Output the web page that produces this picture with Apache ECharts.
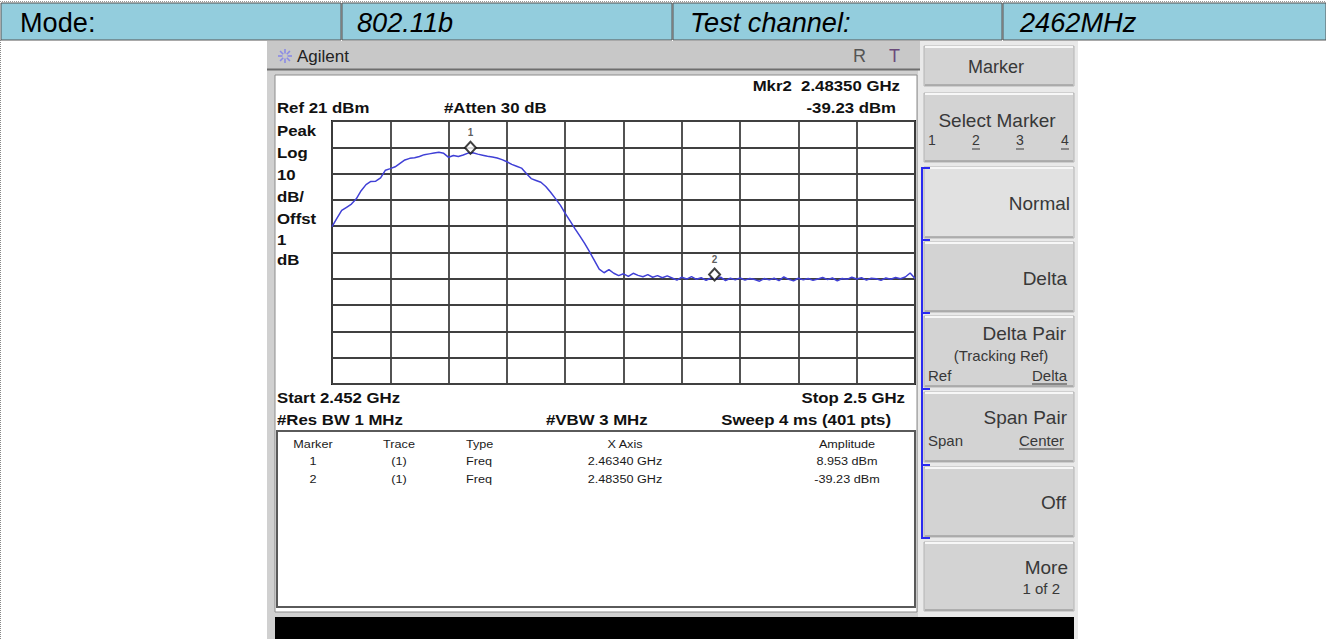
<!DOCTYPE html>
<html><head><meta charset="utf-8">
<script src="https://cdn.jsdelivr.net/npm/echarts@6/dist/echarts.min.js"></script>
<style>html,body{margin:0;padding:0;background:#fff;}#c{width:1326px;height:639px;}</style>
</head><body><div id="c"></div>
<script>
// ---------- data ----------
const headerCells = ['Mode:', '802.11b', 'Test channel:', '2462MHz'];
const freqMHz = [
2452.0,2452.4,2452.8,2453.2,2453.6,2454.0,2454.4,2454.8,2455.2,2455.6,
2456.0,2456.4,2456.8,2457.2,2457.6,2458.0,2458.4,2458.8,2459.2,2459.6,
2460.0,2460.4,2460.8,2461.2,2461.6,2462.0,2462.4,2462.8,2463.2,2463.6,
2464.0,2464.4,2464.8,2465.2,2465.6,2466.0,2466.4,2466.8,2467.2,2467.6,
2468.0,2468.4,2468.8,2469.2,2469.6,2470.0,2470.4,2470.8,2471.2,2471.6,
2472.0,2472.4,2472.8,2473.2,2473.6,2474.0,2474.4,2474.8,2475.2,2475.6,
2476.0,2476.4,2476.8,2477.2,2477.6,2478.0,2478.4,2478.8,2479.2,2479.6,
2480.0,2480.4,2480.8,2481.2,2481.6,2482.0,2482.4,2482.8,2483.2,2483.6,
2484.0,2484.4,2484.8,2485.2,2485.6,2486.0,2486.4,2486.8,2487.2,2487.6,
2488.0,2488.4,2488.8,2489.2,2489.6,2490.0,2490.4,2490.8,2491.2,2491.6,
2492.0,2492.4,2492.8,2493.2,2493.6,2494.0,2494.4,2494.8,2495.2,2495.6,
2496.0,2496.4,2496.8,2497.2,2497.6,2498.0,2498.4,2498.8,2499.2,2499.6,
2500.0];
const traceDbm = [
-19.2,-16.0,-13.0,-11.8,-10.6,-8.6,-5.5,-3.2,-2.0,-1.9,
-0.6,2.3,2.9,3.6,4.9,6.2,6.8,7.0,7.5,8.2,
8.5,8.8,9.1,8.7,7.2,7.9,7.5,8.1,8.8,8.9,
8.4,8.0,7.6,7.3,6.9,6.3,5.5,4.5,3.8,3.1,
1.0,-0.9,-1.6,-2.3,-3.9,-6.1,-8.5,-11.0,-14.1,-17.0,
-19.9,-22.7,-25.5,-28.7,-32.0,-35.3,-36.7,-35.5,-36.9,-37.8,
-37.1,-38.1,-36.9,-37.7,-38.2,-37.4,-38.4,-37.8,-38.6,-37.9,
-38.7,-39.5,-38.4,-39.1,-38.2,-39.2,-38.6,-39.6,-38.7,-39.2,
-38.4,-39.7,-38.8,-39.4,-38.7,-39.5,-38.9,-39.3,-39.9,-38.9,
-39.4,-38.8,-39.7,-38.3,-39.2,-39.8,-38.8,-39.4,-38.9,-39.6,
-39.1,-38.5,-39.3,-38.7,-39.8,-38.9,-39.2,-38.4,-39.1,-38.6,
-39.5,-38.8,-39.0,-39.6,-38.7,-39.2,-38.5,-39.0,-38.3,-36.8,
-38.9];
const markerIds = ['1', '2'];
const markerFreqGHz = [2.46340, 2.48350];
const markerAmpDbm = [8.953, -39.23];
const refLevelDbm = 21;
const dbPerDiv = 10;
const startGHz = 2.452;
const stopGHz = 2.5;
const leftLabels = ['Peak', 'Log', '10', 'dB/', 'Offst', '1', 'dB'];
const tableHeads = ['Marker', 'Trace', 'Type', 'X Axis', 'Amplitude'];
const softKeys = ['Marker', 'Select Marker', 'Normal', 'Delta', 'Delta Pair', 'Span Pair', 'Off', 'More'];

// ---------- helpers ----------
const FF = '"Liberation Sans", Arial, Helvetica, sans-serif';
const G = [];
function R(x, y, w, h, fill, o) { o = o || {}; G.push({type:'rect', silent:true, z:o.z == null ? -5 : o.z, shape:{x, y, width:w, height:h}, style:{fill, stroke:o.stroke || null, lineWidth:o.lw || 0}}); }
function L(x1, y1, x2, y2, c, lw, o) { o = o || {}; G.push({type:'line', silent:true, z:o.z == null ? 1 : o.z, shape:{x1, y1, x2, y2}, style:{stroke:c, lineWidth:lw, lineDash:o.dash || null}}); }
function T(x, y, text, o) {
  o = o || {};
  G.push({type:'text', silent:true, z:10, x, y, scaleX:o.sx || 1, scaleY:o.sy || 1,
    style:{text, x:0, y:0, fill:o.c || '#111', fontSize:o.fs || 14, fontFamily:o.ff || FF,
      fontWeight:o.fw || 'normal', fontStyle:o.st || 'normal', align:o.a || 'left', verticalAlign:'middle'}});
}

// ---------- page / header ----------
L(0.5, 40, 0.5, 639, '#888', 1, {dash:[1, 1]});
L(0, 1.5, 1326, 1.5, '#999', 1, {dash:[1, 1]});
const hx = [0, 341, 672, 1002, 1326];
const htx = [20, 357, 690, 1020];
for (let i = 0; i < 4; i++) {
  R(hx[i] + 1, 3, hx[i + 1] - hx[i] - 1, 37, '#93cddd', {stroke:'#555', lw:1, z:-4});
  T(htx[i], 22, headerCells[i], {fs:28, sx:0.97, c:'#000', st: i === 0 ? 'normal' : 'italic'});
}

// ---------- instrument frame ----------
R(267, 41, 811, 598, '#d0d0d0', {z:-9});
R(918, 41, 160, 598, '#e9e9e9', {z:-8});
R(267, 41, 653, 28, '#c8c8c8', {z:-7});
L(267, 69.5, 920, 69.5, '#6e6e6e', 2, {z:-6});
R(275, 75, 642, 537, '#ffffff', {stroke:'#8c8c8c', lw:1, z:-6});
R(275, 617, 799, 22, '#000000', {z:-6});
// Agilent logo (star burst)
for (let k = 0; k < 8; k++) {
  const a = k * Math.PI / 4;
  L(285 + Math.cos(a) * 2.5, 56 + Math.sin(a) * 2.5, 285 + Math.cos(a) * 7, 56 + Math.sin(a) * 7, '#8a8ae6', 1.6, {z:5});
}
T(297, 56, 'Agilent', {fs:17, c:'#222'});
T(853, 56, 'R', {fs:18, c:'#555'});
T(889, 56, 'T', {fs:18, c:'#6a4a7a'});

// ---------- screen annotations ----------
const B = {fs:15, fw:'bold', sx:1.12, c:'#111'};
const m2 = markerIds.length - 1;
T(900, 86, 'Mkr' + markerIds[m2] + '  ' + markerFreqGHz[m2].toFixed(5) + ' GHz', Object.assign({a:'right'}, B));
T(277, 108, 'Ref ' + refLevelDbm + ' dBm', B);
T(444, 108, '#Atten 30 dB', B);
T(896, 108, markerAmpDbm[m2].toFixed(2) + ' dBm', Object.assign({a:'right'}, B));
const leftY = [131, 153, 175, 197, 219, 240, 260];
leftLabels.forEach((s, i) => T(277, leftY[i], s, B));
T(277, 398, 'Start ' + startGHz + ' GHz', B);
T(905, 398, 'Stop ' + stopGHz + ' GHz', Object.assign({a:'right'}, B));
T(277, 420, '#Res BW 1 MHz', B);
T(546, 420, '#VBW 3 MHz', B);
T(891, 420, 'Sweep 4 ms (401 pts)', Object.assign({a:'right'}, B));

// ---------- marker table ----------
R(277, 431, 638, 176, '#ffffff', {stroke:'#5a5a5a', lw:2, z:-5});
const colX = [313, 399, 466, 625, 847];
const colA = ['center', 'center', 'left', 'center', 'center'];
const TS = {fs:11, sx:1.15, c:'#1a1a1a'};
tableHeads.forEach((h, i) => T(colX[i], 444, h, Object.assign({a:colA[i]}, TS)));
const rowY = [461, 479];
markerIds.forEach((id, r) => {
  const cells = [id, '(1)', 'Freq', markerFreqGHz[r].toFixed(5) + ' GHz',
    (Math.abs(markerAmpDbm[r]) < 10 ? markerAmpDbm[r].toFixed(3) : markerAmpDbm[r].toFixed(2)) + ' dBm'];
  cells.forEach((c, i) => T(colX[i], rowY[r], c, Object.assign({a:colA[i]}, TS)));
});

// ---------- soft keys ----------
const keyY = [[46, 86], [93, 162], [167, 238], [242, 312], [316, 387], [392, 462], [467, 537], [542, 611]];
keyY.forEach((k, i) => {
  R(924, k[0], 150, k[1] - k[0], i === 2 ? '#e1e1e1' : '#d3d3d3', {stroke:'#b4b4b4', lw:1, z:-4});
  L(925, k[0] + 1, 1073, k[0] + 1, '#f7f7f7', 2, {z:-3});
  L(925, k[1] - 1, 1073, k[1] - 1, '#a2a2a2', 1.5, {z:-3});
});
const KC = '#383838';
T(996, 67, softKeys[0], {fs:18, a:'center', c:KC});
T(997, 120, softKeys[1], {fs:19, a:'center', c:KC});
const selX = [932, 976, 1020, 1065];
['1', '2', '3', '4'].forEach((s, i) => {
  T(selX[i], 140, s, {fs:14, a:'center', c:KC});
  if (i > 0) L(selX[i] - 4, 149, selX[i] + 4, 149, KC, 1, {z:10});
});
T(1070, 203, softKeys[2], {fs:19, a:'right', c:KC});
T(1067, 278, softKeys[3], {fs:19, a:'right', c:KC});
T(1066, 333, softKeys[4], {fs:19, a:'right', c:KC});
T(1001, 355, '(Tracking Ref)', {fs:15, a:'center', c:KC});
T(928, 375, 'Ref', {fs:15, c:KC});
T(1067, 375, 'Delta', {fs:15, a:'right', c:KC});
L(1032, 384, 1067, 384, KC, 1, {z:10});
T(1067, 417, softKeys[5], {fs:19, a:'right', c:KC});
T(928, 440, 'Span', {fs:15, c:KC});
T(1064, 440, 'Center', {fs:15, a:'right', c:KC});
L(1019, 449, 1064, 449, KC, 1, {z:10});
T(1066, 502, softKeys[6], {fs:19, a:'right', c:KC});
T(1068, 567, softKeys[7], {fs:19, a:'right', c:KC});
T(1060, 588, '1 of 2', {fs:15, a:'right', c:KC});
// blue bracket
L(922, 168, 922, 538, '#2a2af0', 2, {z:6});
[168, 240, 313, 389, 465, 538].forEach(y => L(921, y, 930, y, '#2a2af0', 2, {z:6}));

// ---------- chart ----------
const chart = echarts.init(document.getElementById('c'), null, {renderer:'svg'});
const gridAxis = {type:'value', min:0, max:10, interval:1, gridIndex:0,
  axisLine:{show:false}, axisTick:{show:false}, axisLabel:{show:false},
  splitLine:{show:true, lineStyle:{color:'#404040', width:1.8}}};
chart.setOption({
  animation:false,
  backgroundColor:'transparent',
  graphic:G,
  grid:{left:332, top:121, width:583, height:263, show:true, backgroundColor:'#ffffff', borderColor:'#1a1a1a', borderWidth:2},
  xAxis:[
    {type:'value', min:startGHz * 1000, max:stopGHz * 1000, show:false},
    Object.assign({}, gridAxis)
  ],
  yAxis:[
    {type:'value', min:refLevelDbm - 10 * dbPerDiv, max:refLevelDbm, show:false},
    Object.assign({}, gridAxis)
  ],
  series:[
    {type:'line', xAxisIndex:0, yAxisIndex:0, showSymbol:false, symbol:'none', z:5,
      lineStyle:{color:'#4040d6', width:1.5},
      data:freqMHz.map((f, i) => [f, traceDbm[i]])},
    {type:'scatter', xAxisIndex:0, yAxisIndex:0, z:6, symbol:'diamond', symbolSize:[11, 12], symbolOffset:[0, -5],
      itemStyle:{color:'#ffffff', borderColor:'#111', borderWidth:2},
      label:{show:true, position:'top', distance:3, fontSize:10, fontWeight:'bold', color:'#333', fontFamily:FF,
        formatter:p => markerIds[p.dataIndex]},
      data:markerFreqGHz.map((f, i) => [f * 1000, markerAmpDbm[i]])}
  ]
});
</script></body></html>
